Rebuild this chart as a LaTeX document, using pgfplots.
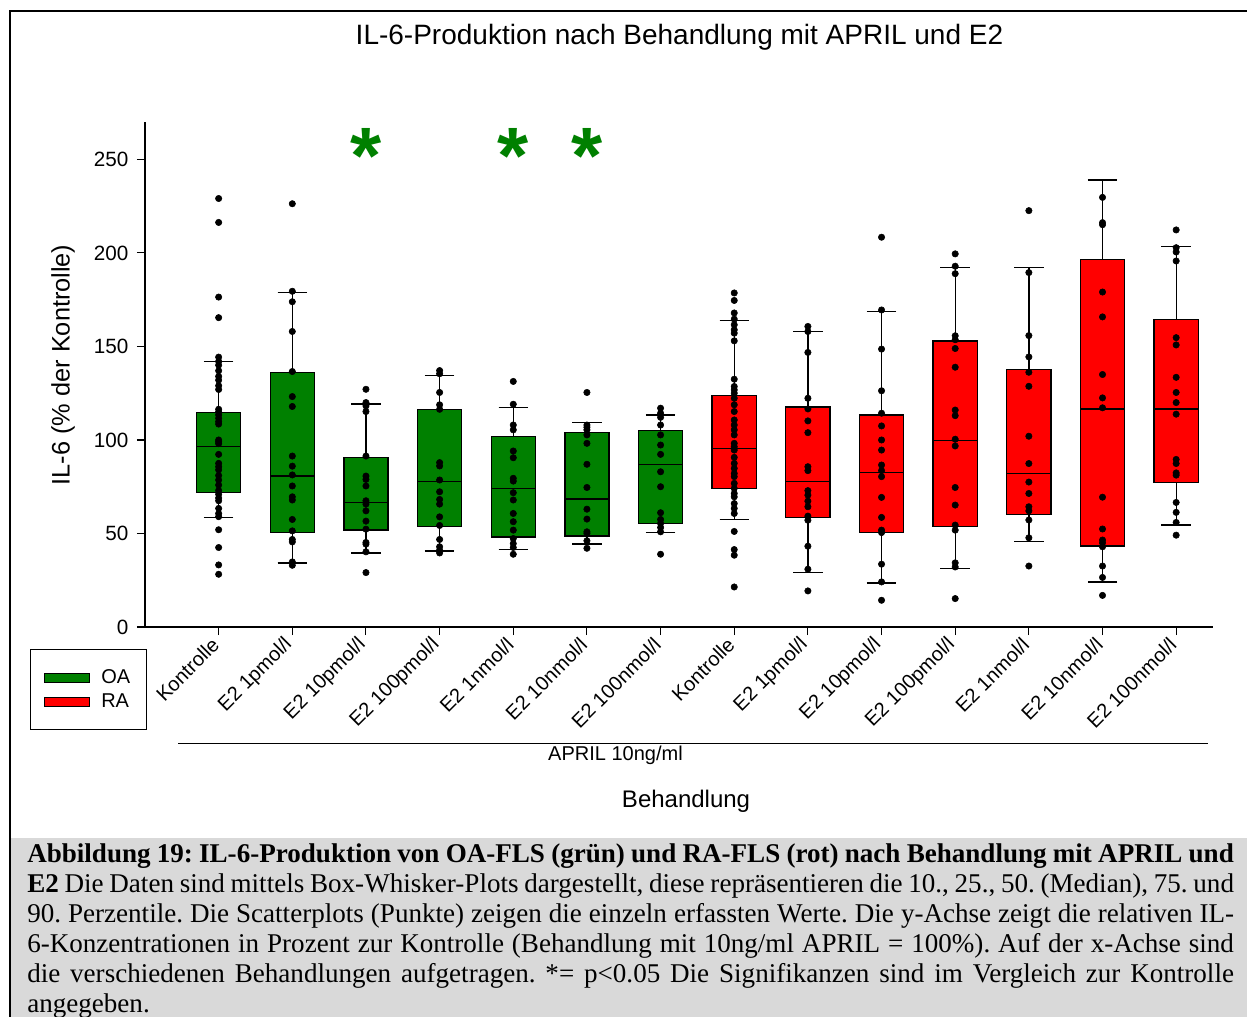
\documentclass[border=0pt]{standalone}
\usepackage{fontspec}
\setmainfont{Liberation Sans}
\newfontfamily\capfont{Liberation Serif}
\usepackage{pgfplots}
\pgfplotsset{compat=1.18}
\usepgfplotslibrary{statistics}
\definecolor{oagreen}{RGB}{0,128,0}
\definecolor{rared}{RGB}{255,0,0}
\definecolor{capgray}{RGB}{217,217,217}
\pgfplotsset{
  oabox/.style={fill=oagreen, draw=black, solid, line width=1pt},
  rabox/.style={fill=rared, draw=black, solid, line width=1pt},
  dots/.style={only marks, mark=*, mark size=2.4pt, black, forget plot},
}
\begin{document}
\frenchspacing
\begin{tikzpicture}[x=0.75pt,y=-0.75pt]
\useasboundingbox (0,0) rectangle (1247,1017);
% caption background and frame
\fill[capgray] (11,838) rectangle (1247,1017);
\draw[line width=1.5pt] (1247,11) -- (10,11) -- (10,1017);

\begin{axis}[
  at={(108.75pt,-470.25pt)}, anchor=south west,
  scale only axis, width=801pt, height=378.75pt,
  xmin=-1, xmax=13.5, ymin=0, ymax=270,
  axis x line*=bottom, axis y line*=left,
  x axis line style={-}, y axis line style={-},
  axis line style={line width=0.8pt},
  tick align=outside, major tick length=6pt,
  every tick/.style={black, line width=0.8pt},
  xtick={0,...,13},
  xticklabels={Kontrolle, E2 1pmol/l, E2 10pmol/l, E2 100pmol/l, E2 1nmol/l, E2 10nmol/l, E2 100nmol/l,
               Kontrolle, E2 1pmol/l, E2 10pmol/l, E2 100pmol/l, E2 1nmol/l, E2 10nmol/l, E2 100nmol/l},
  xticklabel style={rotate=45, anchor=east, font=\fontsize{15}{15}\selectfont},
  xticklabel shift=2.5pt,
  ytick={0,50,...,250},
  yticklabel style={font=\fontsize{15.5}{15.5}\selectfont},
  yticklabel shift=3pt,
  /pgf/number format/assume math mode=true,
  ylabel={IL-6 (\% der Kontrolle)},
  every axis y label/.style={at={(axis description cs:-0.0768,0.519)}, rotate=90, anchor=center, font=\fontsize{19}{19}\selectfont},
  xlabel={Behandlung},
  every axis x label/.style={at={(axis description cs:0.5066,-0.3446)}, anchor=center, font=\fontsize{18}{18}\selectfont},
  boxplot/draw direction=y,
  boxplot/box extend=0.6, boxplot/whisker extend=0.4,
  clip=false,
  legend image code/.code={\draw[#1] (0pt,-3.4pt) rectangle (34pt,3.4pt);},
  legend style={at={(axis description cs:-0.1077,-0.044)}, anchor=north west,
    draw=black, line width=0.75pt, font=\fontsize{15}{15}\selectfont,
    inner xsep=10pt, inner ysep=13pt, row sep=2pt,
    /tikz/every odd column/.append style={column sep=6.5pt}},
  legend cell align=left,
]
\addlegendimage{fill=oagreen, draw=black, line width=0.6pt}
\addlegendentry{OA}
\addlegendimage{fill=rared, draw=black, line width=0.6pt}
\addlegendentry{RA}

% OA groups: lower whisker, lower quartile, median, upper quartile, upper whisker
\addplot+[boxplot prepared={draw position=0, lower whisker=58.4, lower quartile=72.0, median=96.4, upper quartile=114.8, upper whisker=142.1}, oabox] coordinates {};
\addplot+[boxplot prepared={draw position=1, lower whisker=34.3, lower quartile=50.5, median=80.7, upper quartile=136.0, upper whisker=178.9}, oabox] coordinates {};
\addplot+[boxplot prepared={draw position=2, lower whisker=39.6, lower quartile=51.8, median=66.4, upper quartile=90.7, upper whisker=119.3}, oabox] coordinates {};
\addplot+[boxplot prepared={draw position=3, lower whisker=40.7, lower quartile=53.6, median=77.7, upper quartile=116.3, upper whisker=134.3}, oabox] coordinates {};
\addplot+[boxplot prepared={draw position=4, lower whisker=41.4, lower quartile=48.2, median=74.1, upper quartile=101.8, upper whisker=117.5}, oabox] coordinates {};
\addplot+[boxplot prepared={draw position=5, lower whisker=44.3, lower quartile=48.6, median=68.4, upper quartile=103.9, upper whisker=109.5}, oabox] coordinates {};
\addplot+[boxplot prepared={draw position=6, lower whisker=50.4, lower quartile=55.4, median=87.0, upper quartile=105.0, upper whisker=113.4}, oabox] coordinates {};
% RA groups
\addplot+[boxplot prepared={draw position=7, lower whisker=57.5, lower quartile=74.1, median=95.5, upper quartile=123.8, upper whisker=163.9}, rabox] coordinates {};
\addplot+[boxplot prepared={draw position=8, lower whisker=29.1, lower quartile=58.4, median=77.7, upper quartile=117.7, upper whisker=158.0}, rabox] coordinates {};
\addplot+[boxplot prepared={draw position=9, lower whisker=23.6, lower quartile=50.4, median=82.7, upper quartile=113.4, upper whisker=168.8}, rabox] coordinates {};
\addplot+[boxplot prepared={draw position=10, lower whisker=31.3, lower quartile=53.9, median=99.6, upper quartile=152.9, upper whisker=192.3}, rabox] coordinates {};
\addplot+[boxplot prepared={draw position=11, lower whisker=45.6, lower quartile=60.2, median=81.9, upper quartile=137.8, upper whisker=192.3}, rabox] coordinates {};
\addplot+[boxplot prepared={draw position=12, lower whisker=24.0, lower quartile=43.4, median=116.5, upper quartile=196.6, upper whisker=239.0}, rabox] coordinates {};
\addplot+[boxplot prepared={draw position=13, lower whisker=54.5, lower quartile=77.1, median=116.5, upper quartile=164.4, upper whisker=203.3}, rabox] coordinates {};

% individual values
\addplot[dots] coordinates {
(0,229.1)(0,216.3)(0,176.4)(0,165.4)(0,144.3)(0,142)(0,140)(0,137)(0,134)(0,132)(0,129)(0,127)
(0,116.4)(0,115)(0,113.4)(0,111.6)(0,109.8)(0,108.5)(0,100)(0,99)(0,98)(0,92.3)(0,87.5)(0,85.7)
(0,84)(0,81)(0,78.6)(0,75.9)(0,73)(0,71)(0,69)(0,67.5)(0,63.4)(0,60.7)(0,59)(0,52)(0,42.5)(0,33.2)(0,28.2)};
\addplot[dots] coordinates {
(1,226.3)(1,179.5)(1,173.9)(1,158)(1,136.6)(1,123.2)(1,117.9)(1,91.4)(1,86)(1,81.3)(1,75.4)(1,69.6)
(1,67.9)(1,57.5)(1,51.4)(1,46.8)(1,45.5)(1,34.8)(1,33)};
\addplot[dots] coordinates {
(2,127.1)(2,120)(2,118.2)(2,115.2)(2,91.4)(2,80.7)(2,78.9)(2,75.4)(2,67.5)(2,65.7)(2,62.1)(2,56.6)
(2,52.3)(2,45.2)(2,44.3)(2,40.2)(2,29.1)};
\addplot[dots] coordinates {
(3,137.1)(3,135.4)(3,125.4)(3,118.8)(3,116.4)(3,87.9)(3,86.1)(3,78.6)(3,72.3)(3,68.2)(3,65.7)(3,58.9)
(3,54.3)(3,46.8)(3,42.9)(3,41.1)(3,39.6)};
\addplot[dots] coordinates {
(4,131.3)(4,119.1)(4,108)(4,105.4)(4,94.1)(4,90.5)(4,79.5)(4,78)(4,71.8)(4,67.9)(4,60.7)(4,56.3)
(4,51.8)(4,47.3)(4,44.6)(4,42.5)(4,38.9)};
\addplot[dots] coordinates {
(5,125.4)(5,108)(5,106.8)(5,105.4)(5,102.7)(5,98.2)(5,87)(5,74.6)(5,63)(5,57.7)(5,50.9)(5,50)
(5,46.1)(5,42.1)};
\addplot[dots] coordinates {
(6,117)(6,114.3)(6,112.1)(6,108)(6,102.7)(6,97.3)(6,92.3)(6,83)(6,75)(6,61.1)(6,57.5)(6,55.4)
(6,53.2)(6,50.9)(6,38.9)};
\addplot[dots] coordinates {
(7,178.6)(7,174.6)(7,167.9)(7,164.6)(7,161.6)(7,158.9)(7,157.1)(7,153)(7,132.5)(7,128.6)(7,126.8)
(7,125)(7,122.3)(7,118.8)(7,115.2)(7,110.7)(7,108)(7,105.4)(7,102.7)(7,98.2)(7,96.4)(7,94.6)
(7,90.7)(7,87.5)(7,84.8)(7,82.1)(7,80.4)(7,76.8)(7,74.1)(7,71.4)(7,69.6)(7,66)(7,63.4)(7,60.7)
(7,51.1)(7,41.4)(7,38.4)(7,21.4)};
\addplot[dots] coordinates {
(8,160.7)(8,158)(8,146.8)(8,122.3)(8,116.6)(8,110.2)(8,103.9)(8,85.7)(8,83.6)(8,72.9)(8,70.5)
(8,67.3)(8,64.3)(8,59.3)(8,57.1)(8,43.2)(8,30.9)(8,19.3)};
\addplot[dots] coordinates {
(9,208.4)(9,169.5)(9,148.6)(9,126.3)(9,114.3)(9,107.5)(9,100)(9,94.6)(9,86.6)(9,83.6)(9,80.4)
(9,69.3)(9,58.6)(9,51.8)(9,50.5)(9,33.6)(9,24.1)(9,14.3)};
\addplot[dots] coordinates {
(10,199.5)(10,192.9)(10,188.9)(10,155.7)(10,153.6)(10,148.9)(10,138.9)(10,116)(10,113)(10,100.4)
(10,96.8)(10,74.6)(10,65.2)(10,54.5)(10,51.8)(10,34.3)(10,32.1)(10,15.2)};
\addplot[dots] coordinates {
(11,222.6)(11,189.5)(11,155.8)(11,144.4)(11,136.2)(11,128.7)(11,102)(11,87.4)(11,77.5)(11,71.4)
(11,64.3)(11,62.1)(11,57.2)(11,47.7)(11,32.6)};
\addplot[dots] coordinates {
(12,229.7)(12,216.2)(12,215.1)(12,179.1)(12,165.8)(12,135)(12,122.5)(12,117.2)(12,69.4)(12,52.4)
(12,46.5)(12,45)(12,42.9)(12,32.6)(12,26.5)(12,16.9)};
\addplot[dots] coordinates {
(13,212.3)(13,202.8)(13,200.5)(13,195.7)(13,154.7)(13,150.8)(13,133.5)(13,125.4)(13,120)(13,113.8)
(13,89.6)(13,87.4)(13,82.4)(13,81.2)(13,66.6)(13,61.3)(13,55.9)(13,49.1)};

% significance markers
\node[text=oagreen, font=\bfseries\fontsize{60}{60}\selectfont, inner sep=0pt] at (axis cs:2,252) {*};
\node[text=oagreen, font=\bfseries\fontsize{60}{60}\selectfont, inner sep=0pt] at (axis cs:4,252) {*};
\node[text=oagreen, font=\bfseries\fontsize{60}{60}\selectfont, inner sep=0pt] at (axis cs:5,252) {*};
\end{axis}

% title
\node[anchor=base, font=\fontsize{21}{24}\selectfont, inner sep=0pt] at (679.5,45) {IL-6-Produktion nach Behandlung mit APRIL und E2};
% treatment bracket
\draw[line width=0.75pt] (178,743) -- (1208,743);
\node[anchor=center, font=\fontsize{15}{15}\selectfont] at (615.5,755) {APRIL 10ng/ml};

% caption
\begin{scope}[every node/.style={anchor=base west, inner sep=0pt, font=\capfont\fontsize{20.3}{22}\selectfont}]
\node at (27,862) {\makebox[905pt][s]{\bfseries Abbildung 19: IL-6-Produktion von OA-FLS (grün) und RA-FLS (rot) nach Behandlung mit APRIL und}};
\node at (27,892) {\makebox[905pt][s]{\textbf{E2} Die Daten sind mittels Box-Whisker-Plots dargestellt, diese repräsentieren die 10., 25., 50. (Median), 75. und}};
\node at (27,922) {\makebox[905pt][s]{90. Perzentile. Die Scatterplots (Punkte) zeigen die einzeln erfassten Werte. Die y-Achse zeigt die relativen IL-}};
\node at (27,952) {\makebox[905pt][s]{6-Konzentrationen in Prozent zur Kontrolle (Behandlung mit 10ng/ml APRIL = 100\%). Auf der x-Achse sind}};
\node at (27,982) {\makebox[905pt][s]{die verschiedenen Behandlungen aufgetragen. *= p<0.05 Die Signifikanzen sind im Vergleich zur Kontrolle}};
\node at (27,1012) {angegeben.};
\end{scope}
\end{tikzpicture}
\end{document}
